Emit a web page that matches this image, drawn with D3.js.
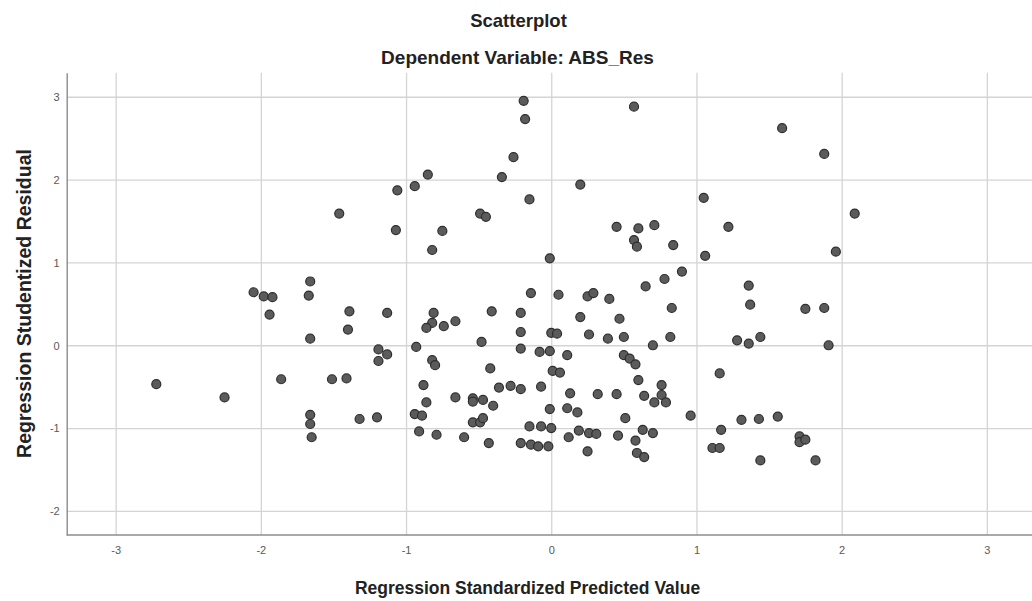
<!DOCTYPE html>
<html>
<head>
<meta charset="utf-8">
<script src="https://cdn.jsdelivr.net/npm/d3@7"></script>
<style>
    body { margin: 0; background: #fff; }
    svg { display: block; font-family: "Liberation Sans", Arial, sans-serif; }
    .grid line { stroke: #d4d4d4; stroke-width: 1.3; }
    .grid path { display: none; }
    .axis path, .axis line { stroke: #8c8c8c; stroke-width: 1.4; }
    .axis text { fill: #595959; font-size: 11px; }
</style>
</head>
<body>
<div class="chart"></div>
<script>
// 軸刻度
const xTicks = [-3, -2, -1, 0, 1, 2, 3];
const yTicks = [-2, -1, 0, 1, 2, 3];

// Regression Standardized Predicted Value (x)
const predicted = [
    -1.46, -0.19, -0.18, 0.57, -0.26, -0.85, -0.94, -1.06, -0.34, 0.20,
    -0.15, -0.49, -0.45, -1.07, -0.75, -0.82, 0.45, 0.60, 0.71, 0.57,
    0.59, 0.84, -0.01, 0.90, 0.78, 0.65, -0.14, 0.05, 0.25, 0.29,
    0.40, 1.59, 1.88, 1.05, 1.22, 2.09, 1.06, 1.96, 1.36, -2.05,
    -1.98, -1.92, -1.66, -1.67, -1.94, -2.72, -2.25, -1.86, -1.39, -1.13,
    -1.40, -1.66, -0.81, -0.82, -0.86, -0.74, -0.66, -0.41, -0.48, -0.93,
    -1.19, -1.13, -1.19, -0.82, -0.80, -0.42, -1.51, -1.41, -0.88, -0.36,
    -0.66, -0.54, -0.54, -0.47, -0.40, -0.86, -1.66, -1.66, -1.32, -1.20,
    -0.94, -0.89, -0.54, -0.49, -0.47, -0.91, -0.79, -0.60, -0.43, -1.65,
    0.83, -0.21, 0.20, 0.47, -0.21, 0.00, 0.04, 0.26, 0.39, 0.50,
    0.82, 0.70, -0.21, -0.08, -0.01, 0.11, 0.50, 0.54, 0.58, 0.01,
    0.06, 0.60, 0.76, 0.76, 0.79, 0.64, 0.71, -0.28, -0.21, -0.07,
    0.13, 0.32, 0.45, -0.01, 0.11, 0.18, 0.51, 0.96, -0.15, -0.07,
    0.00, 0.19, 0.12, 0.26, 0.31, 0.46, 0.63, 0.70, 0.58, -0.21,
    -0.14, -0.09, -0.02, 0.25, 0.59, 0.64, 1.37, 1.75, 1.88, 1.28,
    1.36, 1.44, 1.91, 1.16, 1.31, 1.43, 1.56, 1.17, 1.11, 1.16,
    1.71, 1.71, 1.75, 1.44, 1.82
];

// Regression Studentized Residual (y)
const residual = [
    1.59, 2.95, 2.73, 2.88, 2.27, 2.06, 1.92, 1.87, 2.03, 1.94,
    1.76, 1.59, 1.55, 1.39, 1.38, 1.15, 1.43, 1.41, 1.45, 1.27,
    1.19, 1.21, 1.05, 0.89, 0.80, 0.71, 0.63, 0.61, 0.59, 0.63,
    0.56, 2.62, 2.31, 1.78, 1.43, 1.59, 1.08, 1.13, 0.72, 0.64,
    0.59, 0.58, 0.77, 0.60, 0.37, -0.47, -0.63, -0.41, 0.41, 0.39,
    0.19, 0.08, 0.39, 0.27, 0.21, 0.23, 0.29, 0.41, 0.04, -0.02,
    -0.05, -0.11, -0.19, -0.18, -0.24, -0.28, -0.41, -0.40, -0.48, -0.51,
    -0.63, -0.64, -0.68, -0.66, -0.73, -0.69, -0.84, -0.95, -0.89, -0.87,
    -0.83, -0.85, -0.93, -0.93, -0.88, -1.04, -1.08, -1.11, -1.18, -1.11,
    0.45, 0.39, 0.34, 0.32, 0.16, 0.15, 0.14, 0.13, 0.08, 0.10,
    0.10, 0.00, -0.04, -0.08, -0.07, -0.12, -0.12, -0.16, -0.23, -0.31,
    -0.33, -0.42, -0.48, -0.60, -0.69, -0.61, -0.69, -0.49, -0.53, -0.50,
    -0.58, -0.59, -0.59, -0.77, -0.76, -0.81, -0.88, -0.85, -0.98, -0.98,
    -1.00, -1.03, -1.11, -1.06, -1.07, -1.09, -1.02, -1.06, -1.15, -1.18,
    -1.20, -1.22, -1.22, -1.28, -1.30, -1.35, 0.49, 0.44, 0.45, 0.06,
    0.02, 0.10, 0.00, -0.34, -0.90, -0.89, -0.86, -1.02, -1.24, -1.24,
    -1.10, -1.17, -1.14, -1.39, -1.39
];

const points = predicted.map((d, i) => ({ x: d, y: residual[i] }));

//畫布尺寸
const svg_width = 1032;
const svg_height = 601;
const plot = { left: 66.7, top: 72.7, right: 1035.8, bottom: 535 };

const svg = d3.select('.chart').append('svg')
    .attr('width', svg_width).attr('height', svg_height);

const X_scale = d3.scaleLinear([-3.337, 3.337], [plot.left, plot.right]);
const Y_scale = d3.scaleLinear([-2.29, 3.29], [plot.bottom, plot.top]);

//刻度文字用一般的減號
const tickText = d => String(d);

//格線
svg.append('g').attr('class', 'grid')
    .attr('transform', `translate(0,${plot.bottom})`)
    .call(d3.axisBottom(X_scale).tickValues(xTicks).tickSize(-(plot.bottom - plot.top)).tickFormat(''));
svg.append('g').attr('class', 'grid')
    .attr('transform', `translate(${plot.left},0)`)
    .call(d3.axisLeft(Y_scale).tickValues(yTicks).tickSize(-(svg_width - plot.left)).tickFormat(''));

//座標軸
const xAxisDraw = svg.append('g').attr('class', 'x axis')
    .attr('transform', `translate(0,${plot.bottom})`)
    .call(d3.axisBottom(X_scale).tickValues(xTicks).tickSize(0).tickSizeOuter(0).tickPadding(11)
        .tickFormat(tickText));
const yAxisDraw = svg.append('g').attr('class', 'y axis')
    .attr('transform', `translate(${plot.left},0)`)
    .call(d3.axisLeft(Y_scale).tickValues(yTicks).tickSize(0).tickSizeOuter(0).tickPadding(7)
        .tickFormat(tickText));
xAxisDraw.select('.domain').attr('d', `M${plot.left},0H${svg_width}`);
yAxisDraw.selectAll('text').attr('dy', '0.35em');

//散佈點
svg.append('g').attr('class', 'dots')
    .selectAll('circle').data(points).join('circle')
    .attr('cx', d => X_scale(d.x))
    .attr('cy', d => Y_scale(d.y))
    .attr('r', 4.5)
    .style('fill', '#5b5b5b')
    .style('stroke', '#2e2e2e')
    .style('stroke-width', 1.2);

//標題
svg.append('text').text('Scatterplot')
    .attr('x', 518.5).attr('y', 27).attr('text-anchor', 'middle')
    .style('font-size', '18.5px').style('font-weight', 'bold').style('fill', '#222');
svg.append('text').text('Dependent Variable: ABS_Res')
    .attr('x', 517.5).attr('y', 64).attr('text-anchor', 'middle')
    .style('font-size', '19px').style('font-weight', 'bold').style('fill', '#222');

//軸標題
svg.append('text').text('Regression Standardized Predicted Value')
    .attr('x', 527.5).attr('y', 594).attr('text-anchor', 'middle')
    .style('font-size', '17.5px').style('font-weight', 'bold').style('fill', '#222');
svg.append('text').text('Regression Studentized Residual')
    .attr('transform', 'translate(31,303.5) rotate(-90)').attr('text-anchor', 'middle')
    .style('font-size', '19.5px').style('font-weight', 'bold').style('fill', '#222');
</script>
</body>
</html>
